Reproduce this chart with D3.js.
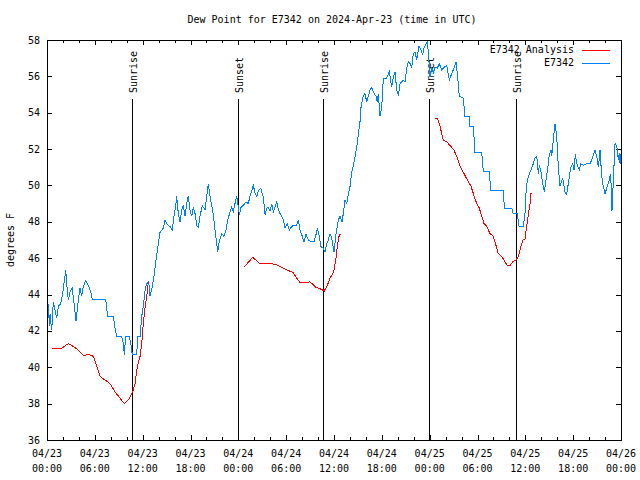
<!DOCTYPE html>
<html><head><meta charset="utf-8">
<script src="https://cdn.jsdelivr.net/npm/d3@7"></script>
<style>
body{margin:0;background:#fff;}
svg{display:block;}
text{font-family:"DejaVu Sans Mono","Liberation Mono",monospace;font-size:10px;fill:#000;}
</style></head>
<body>
<script>
const title = "Dew Point for E7342 on 2024-Apr-23 (time in UTC)";
const yLabel = "degrees F";
const startDate = Date.UTC(2024, 3, 23, 0, 0);
const endHours = 72;
const yDomain = [36, 58];
const yTicks = [36,38,40,42,44,46,48,50,52,54,56,58];

// E7342 observations: hours since 04/23 00:00 UTC, degrees F
const obsHours = [0.16,0.31,0.38,0.59,0.79,1.00,1.22,1.42,1.72,1.97,2.13,2.35,2.47,2.67,2.89,3.17,3.42,3.64,3.93,4.14,4.35,4.55,4.85,5.18,5.48,5.68,7.36,7.61,8.32,8.53,8.74,9.37,9.57,9.70,9.87,10.32,10.54,10.70,11.25,11.38,11.67,11.88,12.08,12.33,12.51,12.76,12.92,13.17,13.42,13.67,13.96,14.17,14.59,14.80,15.02,15.22,15.43,15.72,15.93,16.18,16.27,16.47,16.68,16.90,17.10,17.31,17.52,17.72,17.94,18.15,18.35,18.57,18.78,18.98,19.19,19.48,19.82,20.03,20.23,20.45,20.66,20.86,21.07,21.29,21.41,21.61,21.91,22.20,22.45,22.67,22.96,23.17,23.37,23.58,23.80,24.05,24.12,24.34,24.62,24.96,25.25,25.46,25.68,25.88,26.09,26.31,26.51,26.81,26.97,27.13,27.35,27.56,27.76,27.97,28.19,28.39,28.60,28.81,29.01,29.23,29.44,29.64,29.86,30.14,30.39,30.61,30.90,31.32,31.52,31.74,31.95,32.24,32.49,32.78,33.20,33.49,33.74,33.91,34.16,34.33,34.66,34.87,35.09,35.29,35.50,35.71,36.00,36.25,36.54,36.75,37.00,37.17,37.38,37.59,37.80,38.01,38.22,38.42,38.64,38.85,39.05,39.26,39.39,39.68,39.89,40.10,40.30,40.52,40.73,40.93,41.27,41.43,41.56,41.77,41.99,42.11,42.19,42.61,42.94,43.24,43.44,43.65,43.87,44.07,44.28,44.69,44.91,45.12,45.32,45.54,45.75,45.95,46.16,46.38,46.66,46.91,47.13,47.29,47.54,47.71,47.88,48.04,48.26,48.46,48.67,48.96,49.21,49.51,49.80,50.14,50.47,50.77,51.05,51.30,51.47,51.72,52.22,52.43,52.97,53.06,53.48,53.69,54.53,54.73,55.48,55.66,57.24,57.37,58.29,58.49,58.99,59.21,59.75,59.96,60.09,60.25,60.50,60.71,61.00,61.21,61.43,61.63,61.75,61.93,62.18,62.38,62.59,62.81,63.01,63.22,63.31,63.51,63.72,63.94,64.14,64.35,64.69,64.98,65.19,65.52,65.69,65.94,66.11,66.27,66.45,66.77,66.95,67.27,67.70,68.11,68.33,68.53,68.74,68.96,69.16,69.37,69.58,69.78,70.00,70.28,70.46,70.71,70.87,71.04,71.25,71.46,71.67,71.80,71.88,72.00];
const obsValues = [43.5,42.25,42.9,42.05,43.6,43.15,42.7,43.35,43.5,44.05,44.6,45.35,44.6,43.7,44.15,44.35,43.4,42.55,43.7,44.35,43.9,44.45,44.75,44.5,44.15,43.75,43.75,42.8,42.8,42.15,41.7,41.7,41.3,40.7,41.7,41.7,41.2,40.7,40.7,41.7,41.7,42.8,43.35,44.35,44.6,44.7,43.9,44.35,45.0,45.9,46.8,47.4,47.65,48.1,47.9,47.8,47.75,47.55,48.3,49.0,49.4,48.45,48.0,48.65,48.9,48.3,49.0,49.4,48.65,48.3,48.8,48.45,47.8,47.7,48.3,48.9,48.65,49.4,50.1,49.4,48.9,48.4,47.55,46.8,46.35,46.9,47.35,47.2,47.55,48.1,48.55,48.8,48.55,49.0,49.4,48.65,48.4,48.8,48.9,49.1,49.0,49.4,49.7,50.0,49.6,49.4,49.7,49.85,49.6,49.4,48.4,48.75,48.8,48.6,49.0,48.55,48.8,49.1,48.7,48.45,48.3,48.1,47.65,47.9,47.55,47.7,47.8,47.8,48.1,47.55,47.3,46.9,47.3,47.0,46.9,46.9,47.3,47.65,47.2,46.65,46.55,46.35,46.8,47.0,47.35,47.1,46.35,47.3,48.1,48.3,48.0,48.45,49.2,49.0,49.5,49.95,50.75,51.1,51.6,52.1,52.8,53.5,54.3,54.95,55.05,54.6,54.9,55.25,55.4,55.15,54.9,54.6,55.05,53.8,54.35,55.25,55.9,55.9,56.25,55.4,55.95,56.25,55.25,54.95,55.6,55.8,55.7,56.45,56.8,56.7,56.5,57.25,57.35,56.9,57.65,57.45,57.2,57.55,57.8,57.9,57.1,55.95,56.5,56.15,56.5,56.45,56.7,56.35,56.5,56.6,55.8,56.15,56.45,56.8,56.15,54.9,54.8,53.8,53.8,53.25,53.25,51.8,51.8,50.75,50.75,49.75,49.75,48.75,48.75,48.45,48.45,47.75,47.75,48.45,49.65,50.3,50.65,50.85,51.2,51.5,51.6,50.65,51.1,50.85,50.1,49.65,50.3,50.95,51.7,51.95,51.6,52.5,53.4,52.7,51.0,49.95,50.4,49.65,49.5,50.5,51.0,51.2,50.85,51.7,51.2,50.85,51.2,51.1,51.2,51.2,51.4,51.7,51.95,51.6,51.0,51.95,50.5,49.95,49.55,49.95,50.2,50.65,48.6,50.3,52.3,52.2,51.4,51.8,51.2,51.7];

// E7342 Analysis (null = gap)
const anaHours = [0.66,1.84,2.67,3.10,3.93,4.55,5.31,5.81,6.23,6.65,7.28,7.90,8.53,9.16,9.70,10.20,10.75,11.04,11.33,11.67,11.88,12.08,12.29,12.51,12.63,12.71,18.0,24.71,25.80,26.72,28.19,29.01,29.86,30.90,31.32,31.74,32.36,32.99,33.74,34.33,34.78,35.16,35.50,35.84,36.00,36.25,36.42,36.67,36.88,42.0,48.67,48.96,49.30,49.71,50.14,50.64,51.05,51.47,51.81,52.31,52.85,53.15,53.48,53.90,54.23,54.53,54.82,55.16,55.57,55.99,56.32,56.61,57.04,57.45,57.74,58.08,58.42,58.83,59.12,59.33,59.55,59.75,59.96,60.17,60.38,60.59,60.71,60.84];
const anaValues = [41.05,41.05,41.3,41.2,40.95,40.65,40.7,40.6,40.05,39.5,39.3,39.1,38.65,38.3,38.0,38.2,38.65,39.1,40.05,40.6,41.3,42.4,43.25,43.9,44.4,44.7,null,45.5,46.05,45.7,45.7,45.6,45.4,45.2,44.9,44.65,44.65,44.7,44.4,44.3,44.2,44.5,44.9,45.15,45.35,46.0,46.65,47.3,47.3,null,53.7,53.7,53.25,52.5,52.4,52.15,51.95,51.5,51.05,50.65,50.2,50.0,49.55,49.0,48.75,48.3,47.9,47.75,47.35,47.2,46.7,46.25,46.1,45.8,45.6,45.6,45.8,45.9,46.1,46.45,46.8,47.05,47.05,47.75,48.4,49.0,49.55,49.6];

const sunLabels = ["Sunrise","Sunset","Sunrise","Sunset","Sunrise"];
const sunHours = [10.70, 24.0, 34.67, 47.93, 58.8];

const seriesNames = ["E7342 Analysis","E7342"];
const seriesColors = ["#ff0000","#0080ff"];

const W = 640, H = 480;
const M = {left:47, right:621, top:40, bottom:440};
const toDate = h => new Date(startDate + h*3600e3);

const svg = d3.select("body").append("svg").attr("width",W).attr("height",H);
svg.append("rect").attr("width",W).attr("height",H).attr("fill","#fff");

const x = d3.scaleUtc().domain([toDate(0), toDate(endHours)]).range([M.left, M.right]);
const y = d3.scaleLinear().domain(yDomain).range([M.bottom, M.top]);

const majorT = d3.range(0, endHours+1, 6).map(toDate);
const minorT = d3.range(0, endHours+1, 2).filter(h => h%6!==0).map(toDate);

const g = svg.append("g").attr("shape-rendering","crispEdges");
g.selectAll(".mb").data(minorT).enter().append("line")
  .attr("x1",d=>Math.round(x(d))+0.5).attr("x2",d=>Math.round(x(d))+0.5)
  .attr("y1",M.bottom).attr("y2",M.bottom-3).attr("stroke","#000");
g.selectAll(".mt").data(minorT).enter().append("line")
  .attr("x1",d=>Math.round(x(d))+0.5).attr("x2",d=>Math.round(x(d))+0.5)
  .attr("y1",M.top).attr("y2",M.top+3).attr("stroke","#000");
g.selectAll(".Mb").data(majorT).enter().append("line")
  .attr("x1",d=>Math.round(x(d))+0.5).attr("x2",d=>Math.round(x(d))+0.5)
  .attr("y1",M.bottom).attr("y2",M.bottom-5).attr("stroke","#000");
g.selectAll(".Mt").data(majorT).enter().append("line")
  .attr("x1",d=>Math.round(x(d))+0.5).attr("x2",d=>Math.round(x(d))+0.5)
  .attr("y1",M.top).attr("y2",M.top+5).attr("stroke","#000");
g.selectAll(".yl").data(yTicks).enter().append("line")
  .attr("x1",M.left).attr("x2",M.left+5)
  .attr("y1",d=>Math.round(y(d))+0.5).attr("y2",d=>Math.round(y(d))+0.5).attr("stroke","#000");
g.selectAll(".yr").data(yTicks).enter().append("line")
  .attr("x1",M.right).attr("x2",M.right-5)
  .attr("y1",d=>Math.round(y(d))+0.5).attr("y2",d=>Math.round(y(d))+0.5).attr("stroke","#000");

svg.selectAll(".ylab").data(yTicks).enter().append("text")
  .attr("x",40).attr("y",d=>y(d)).attr("dy","0.35em").attr("text-anchor","end").text(d=>d);

const fmtD = d3.utcFormat("%m/%d"), fmtT = d3.utcFormat("%H:%M");
const xl = svg.selectAll(".xlab").data(majorT).enter().append("text")
  .attr("text-anchor","middle");
xl.append("tspan").attr("x",d=>x(d)).attr("y",457).text(fmtD);
xl.append("tspan").attr("x",d=>x(d)).attr("y",472).text(fmtT);

sunHours.forEach((h,i)=>{
  const xx = Math.round(x(toDate(h)))+0.5;
  g.append("line").attr("x1",xx).attr("x2",xx).attr("y1",99).attr("y2",M.bottom).attr("stroke","#000");
  svg.append("text").attr("transform",`translate(${xx+4},93) rotate(-90)`)
    .attr("text-anchor","start").text(sunLabels[i]);
});

const obs = obsHours.map((h,i)=>({t:toDate(h), v:obsValues[i]}));
const ana = anaHours.map((h,i)=>({t:toDate(h), v:anaValues[i]}));
const line = d3.line().defined(d=>d.v!=null).x(d=>x(d.t)).y(d=>y(d.v));
svg.append("path").datum(obs).attr("d",line).attr("fill","none").attr("stroke",seriesColors[1]).attr("stroke-width",1).attr("shape-rendering","crispEdges");
svg.append("path").datum(ana).attr("d",line).attr("fill","none").attr("stroke",seriesColors[0]).attr("stroke-width",1).attr("shape-rendering","crispEdges");

g.append("rect").attr("x",M.left+0.5).attr("y",M.top+0.5)
  .attr("width",M.right-M.left).attr("height",M.bottom-M.top)
  .attr("fill","none").attr("stroke","#000");

seriesNames.forEach((n,i)=>{
  const ly = 49.5 + i*13;
  svg.append("text").attr("x",574).attr("y",ly).attr("dy","0.35em").attr("text-anchor","end").text(n);
  svg.append("line").attr("x1",582).attr("x2",610).attr("y1",Math.round(ly)+0.5).attr("y2",Math.round(ly)+0.5)
    .attr("stroke",seriesColors[i]).attr("shape-rendering","crispEdges");
});

svg.append("text").attr("x",332).attr("y",19).attr("dy","0.35em").attr("text-anchor","middle").text(title);
svg.append("text").attr("transform","translate(10,240) rotate(-90)").attr("dy","0.35em").attr("text-anchor","middle").text(yLabel);
</script>
</body></html>
